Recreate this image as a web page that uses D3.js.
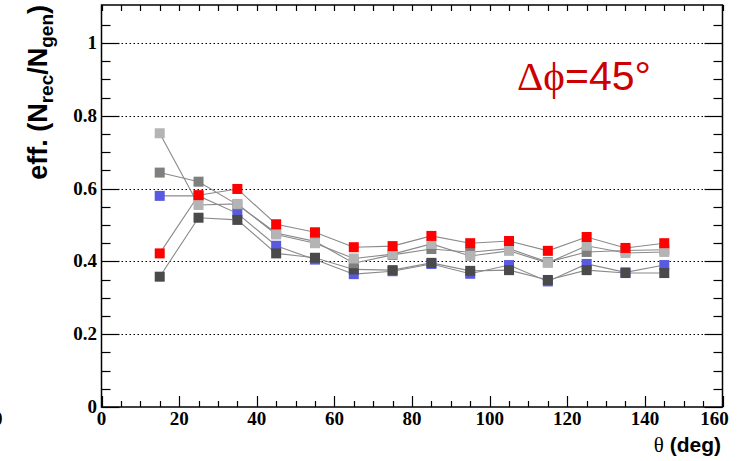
<!DOCTYPE html>
<html>
<head>
<meta charset="utf-8">
<script src="https://cdn.jsdelivr.net/npm/d3@7"></script>
<style>
  html, body { margin: 0; padding: 0; background: #fff; }
  svg { display: block; }
</style>
</head>
<body>
<svg id="chart" width="752" height="461"></svg>
<script>
// Reconstruction efficiency vs polar angle, five samples at Δφ = 45°
const theta = [15, 25, 35, 45, 55, 65, 75, 85, 95, 105, 115, 125, 135, 145];

const effBlue  = [0.580, 0.580, 0.532, 0.443, 0.405, 0.365, 0.373, 0.393, 0.366, 0.390, 0.345, 0.393, 0.370, 0.390];
const effDark  = [0.358, 0.520, 0.514, 0.422, 0.410, 0.378, 0.376, 0.396, 0.374, 0.376, 0.349, 0.376, 0.368, 0.368];
const effMid   = [0.644, 0.619, 0.556, 0.478, 0.455, 0.395, 0.418, 0.434, 0.425, 0.435, 0.398, 0.426, 0.430, 0.432];
const effLight = [0.752, 0.555, 0.558, 0.474, 0.450, 0.408, 0.420, 0.448, 0.415, 0.429, 0.396, 0.443, 0.423, 0.426];
const effRed   = [0.422, 0.582, 0.599, 0.502, 0.480, 0.439, 0.442, 0.470, 0.450, 0.456, 0.429, 0.467, 0.437, 0.450];

const yMajorTicks = [0, 0.2, 0.4, 0.6, 0.8, 1];
const yTickLabels = ["0", "0.2", "0.4", "0.6", "0.8", "1"];
const xMajorTicks = [0, 20, 40, 60, 80, 100, 120, 140, 160];
const xTickLabels = ["0", "20", "40", "60", "80", "100", "120", "140", "160"];

const series = [
  { values: effBlue,  color: "#5a5ae0" },
  { values: effDark,  color: "#4a4a4a" },
  { values: effMid,   color: "#7f7f7f" },
  { values: effLight, color: "#b4b4b4" },
  { values: effRed,   color: "#ff0000" }
];

const svg = d3.select("#chart");
const L = 101.5, R = 722.5, T = 5, B = 407;

const x = d3.scaleLinear().domain([0, 160]).range([L, R]);
const y = d3.scaleLinear().domain([0, 1.1044]).range([B, T]);

// dotted horizontal grid
svg.append("g").selectAll("line")
  .data(yMajorTicks.filter(d => d > 0))
  .join("line")
  .attr("x1", L).attr("x2", R)
  .attr("y1", d => Math.round(y(d)) + 0.5).attr("y2", d => Math.round(y(d)) + 0.5)
  .attr("stroke", "#000").attr("stroke-width", 1.2)
  .attr("stroke-dasharray", "1.5,2.5");

// frame
svg.append("rect")
  .attr("x", L).attr("y", T).attr("width", R - L).attr("height", B - T)
  .attr("fill", "none").attr("stroke", "#000").attr("stroke-width", 1.5);

// y ticks (left and right)
const yMinor = d3.range(0, 1.1, 0.05).map(d => +d.toFixed(2));
const yt = svg.append("g").attr("stroke", "#000").attr("stroke-width", 1.2);
yMinor.forEach(v => {
  const major = Math.abs(v / 0.2 - Math.round(v / 0.2)) < 1e-6;
  const len = major ? 18 : 9;
  const py = Math.round(y(v)) + 0.5;
  yt.append("line").attr("x1", L).attr("x2", L + len).attr("y1", py).attr("y2", py);
  yt.append("line").attr("x1", R).attr("x2", R - len).attr("y1", py).attr("y2", py);
});

// x ticks (bottom and top)
const xMinor = d3.range(0, 161, 5);
const xt = svg.append("g").attr("stroke", "#000").attr("stroke-width", 1.2);
xMinor.forEach(v => {
  const major = v % 20 === 0;
  const px = Math.round(x(v)) + 0.5;
  xt.append("line").attr("x1", px).attr("x2", px).attr("y1", B).attr("y2", B - (major ? 11 : 6));
  xt.append("line").attr("x1", px).attr("x2", px).attr("y1", T).attr("y2", T + 6);
});

// tick labels
const tickFont = "'Liberation Serif', 'Times New Roman', serif";
svg.append("g").selectAll("text")
  .data(yMajorTicks)
  .join("text")
  .attr("x", 97).attr("y", d => y(d) + 6)
  .attr("text-anchor", "end")
  .attr("font-family", tickFont).attr("font-weight", "bold").attr("font-size", 19)
  .text((d, i) => yTickLabels[i]);

svg.append("g").selectAll("text")
  .data(xMajorTicks)
  .join("text")
  .attr("x", d => x(d) + (d === 160 ? -8 : 0)).attr("y", 425)
  .attr("text-anchor", "middle")
  .attr("font-family", tickFont).attr("font-weight", "bold").attr("font-size", 19)
  .text((d, i) => xTickLabels[i]);

// stray label at the canvas edge
svg.append("text")
  .attr("x", -7).attr("y", 425)
  .attr("font-family", tickFont).attr("font-weight", "bold").attr("font-size", 19)
  .text("0");

// axis titles
const xt2 = svg.append("text")
  .attr("x", 721).attr("y", 452)
  .attr("text-anchor", "end")
  .attr("font-family", "'Liberation Sans', Arial, sans-serif")
  .attr("font-weight", "bold").attr("font-size", 21);
xt2.append("tspan").attr("font-family", tickFont).attr("font-weight", "normal").text("θ");
xt2.append("tspan").text(" (deg)");

const yl = svg.append("text")
  .attr("transform", "translate(47,5) rotate(-90)")
  .attr("text-anchor", "end")
  .attr("font-family", "'Liberation Sans', Arial, sans-serif")
  .attr("font-weight", "bold").attr("font-size", 27);
yl.append("tspan").text("eff. (N");
yl.append("tspan").attr("font-size", 19).attr("dy", 6).text("rec");
yl.append("tspan").attr("dy", -6).text("/N");
yl.append("tspan").attr("font-size", 19).attr("dy", 6).text("gen");
yl.append("tspan").attr("dy", -6).text(")");

// connecting lines
const line = d3.line().x((d, i) => x(theta[i])).y(d => y(d));
svg.append("g").selectAll("path")
  .data(series)
  .join("path")
  .attr("d", s => line(s.values))
  .attr("fill", "none").attr("stroke", "#8a8a8a").attr("stroke-width", 1.1);

// square markers
const ms = 10;
series.forEach(s => {
  svg.append("g").selectAll("rect")
    .data(s.values)
    .join("rect")
    .attr("x", (d, i) => x(theta[i]) - ms / 2)
    .attr("y", d => y(d) - ms / 2)
    .attr("width", ms).attr("height", ms)
    .attr("fill", s.color);
});

// annotation
const ann = svg.append("text")
  .attr("x", 517).attr("y", 90)
  .attr("fill", "#cc0000")
  .attr("font-family", "'Liberation Sans', Arial, sans-serif")
  .attr("font-size", 41);
ann.append("tspan").attr("font-family", tickFont).text("Δϕ");
ann.append("tspan").text("=45°");
</script>
</body>
</html>
